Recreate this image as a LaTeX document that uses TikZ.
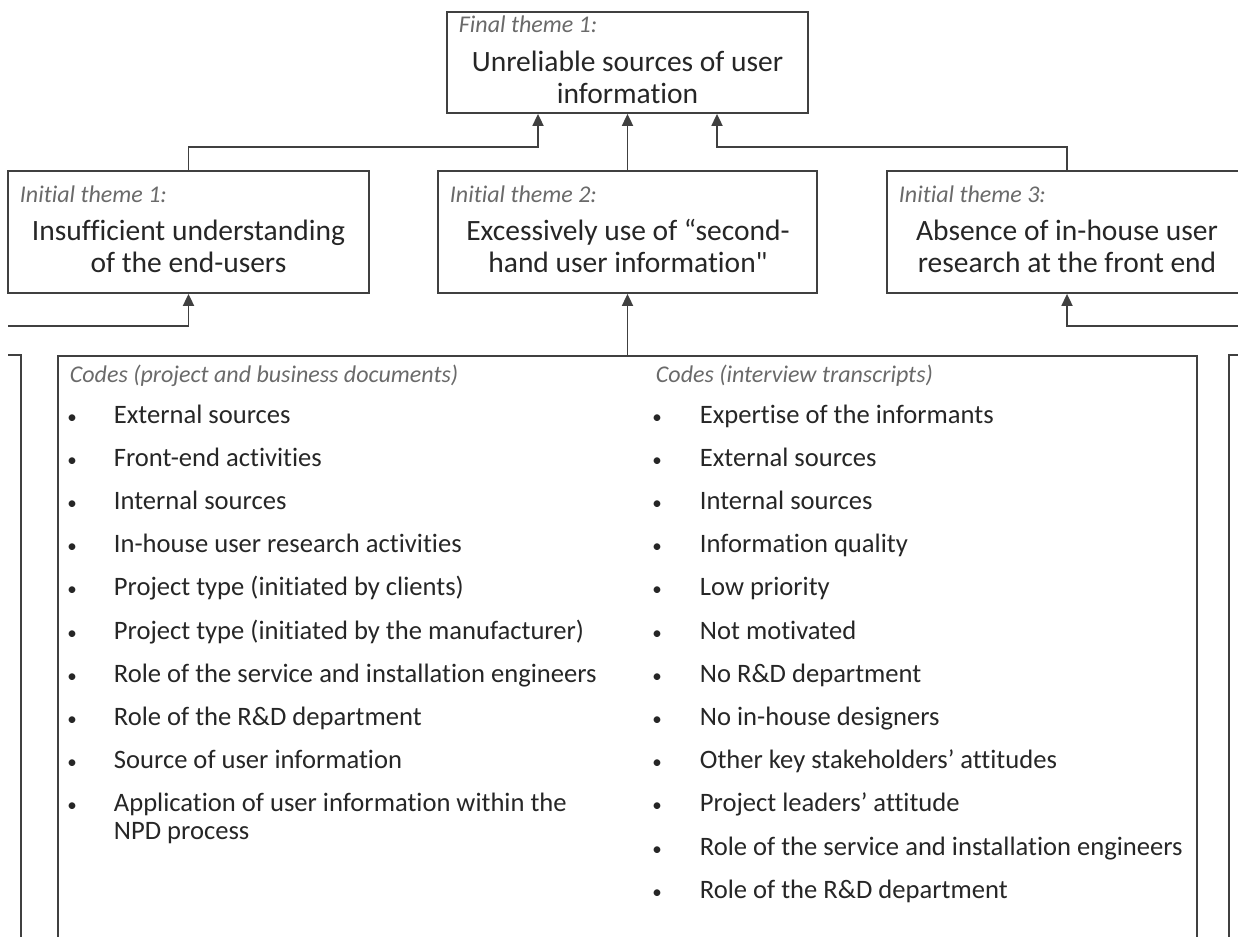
\documentclass[tikz,border=0pt]{standalone}
\usepackage{fontspec}
\setmainfont{Carlito}[Ligatures={TeXOff,NoCommon}]
\usepackage{tikz}
\usetikzlibrary{arrows.meta,positioning}
\definecolor{linegray}{HTML}{404040}
\definecolor{labelgray}{HTML}{6A6A6A}
\definecolor{textblack}{HTML}{262626}

\begin{document}
\begin{tikzpicture}
[x=1pt,y=-1pt,line width=1.8pt,>={Triangle[width=11pt,length=12pt]},
  link/.style={->,draw=linegray},
  theme node/.style={draw=linegray,inner sep=0},
  label node/.style={font=\fontsize{24}{28}\selectfont\itshape,text=labelgray,inner sep=0},
  text node/.style={font=\fontsize{29.5}{32}\selectfont,text=textblack,align=center,inner sep=0},
  code node/.style={font=\fontsize{26.6}{28}\selectfont,text=textblack,align=left,inner sep=0},
  bullet node/.style={font=\fontsize{19}{20}\selectfont,text=textblack,inner sep=0}]

  \clip (0,0) rectangle (1238,936);

  % final theme
  \node [theme node,minimum width=361,minimum height=101] (final) at (627.5,62.5) {};
  \node [label node,anchor=base west] (finallbl) at (458,33) {Final theme 1:};
  \node [text node,anchor=base] (finaltxt) at (627.5,104) {Unreliable sources of user\\information};

  % initial themes
  \node [theme node,minimum width=361,minimum height=122] (init1) at (188.5,232) {};
  \node [theme node,minimum width=379,minimum height=122] (init2) at (627.5,232) {};
  \node [theme node,minimum width=360,minimum height=122] (init3) at (1067,232) {};
  \node [label node,anchor=base west] (init1lbl) at (19,202) {Initial theme 1:};
  \node [label node,anchor=base west] (init2lbl) at (449,202) {Initial theme 2:};
  \node [label node,anchor=base west] (init3lbl) at (898,202) {Initial theme 3:};
  \node [text node,anchor=base] (init1txt) at (188.5,272) {Insufficient understanding\\of the end-users};
  \node [text node,anchor=base] (init2txt) at (628,272) {Excessively use of “second-\\hand user information"};
  \node [text node,anchor=base] (init3txt) at (1067,272) {Absence of in-house user\\research at the front end};

  % code boxes (left and right ones cut off)
  \node [theme node,anchor=north,minimum width=1139,minimum height=650] (codes2) at (627.5,355) {};
  \draw [linegray] (8,355) -- (21,355) -- (21,960);
  \draw [linegray] (1260,355) -- (1229,355) -- (1229,960);
  \coordinate (codes1out) at (8,326);
  \coordinate (codes3out) at (1260,326);

  \node [label node,anchor=base west] (docslbl) at (69,382) {Codes (project and business documents)};
  \node [label node,anchor=base west] (intslbl) at (655,382) {Codes (interview transcripts)};

  \foreach \code [count=\i] in {External sources,Front-end activities,Internal sources,
      In-house user research activities,Project type (initiated by clients),
      Project type (initiated by the manufacturer),Role of the service and installation engineers,
      Role of the R\&D department,Source of user information}
  {
    \node [bullet node,anchor=base] (docb\i) at (72,{423+43.2*(\i-1)}) {\textbullet};
    \node [code node,anchor=base west] (doc\i) at (113,{423+43.2*(\i-1)}) {\code};
  }
  \node [bullet node,anchor=base] (docb10) at (72,811.8) {\textbullet};
  \node [code node,anchor=base west] (doc10) at (113,839.8) {Application of user information within the\\NPD process};

  \foreach \code [count=\i] in {Expertise of the informants,External sources,Internal sources,
      Information quality,Low priority,Not motivated,No R\&D department,No in-house designers,
      Other key stakeholders’ attitudes,Project leaders’ attitude,
      Role of the service and installation engineers,Role of the R\&D department}
  {
    \node [bullet node,anchor=base] (intb\i) at (657,{423+43.2*(\i-1)}) {\textbullet};
    \node [code node,anchor=base west] (int\i) at (699,{423+43.2*(\i-1)}) {\code};
  }

  % connectors
  \draw [link] (init1.north) |- ++(0,-23) -| ([xshift=-89.5pt]final.south);
  \draw [link] (codes2.north |- init2.north) -- (codes2.north |- final.south);
  \draw [link] (init3.north) |- ++(0,-23) -| ([xshift=89.5pt]final.south);
  \draw [link] (codes1out) -| (init1.south);
  \draw [link] (codes2.north) -- (codes2.north |- init2.south);
  \draw [link] (codes3out) -| (init3.south);

\end{tikzpicture}
\end{document}
